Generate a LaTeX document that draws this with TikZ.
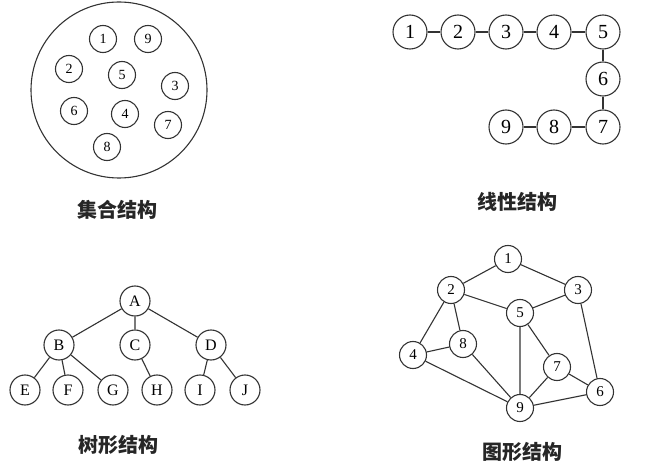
\documentclass[tikz,border=0pt]{standalone}
\usepackage{fontspec}
\setmainfont{Liberation Serif}
\newfontfamily\cjk{Noto Sans CJK SC}
\begin{document}
\begin{tikzpicture}[x=1pt,y=-1pt,
  setnode/.style={circle,draw=black!80,line width=1.1pt,minimum size=27pt,inner sep=0pt,font=\fontsize{14}{16}\selectfont},
  linnode/.style={circle,draw=black!80,line width=1.1pt,minimum size=34pt,inner sep=0pt,font=\fontsize{20}{22}\selectfont},
  treenode/.style={circle,draw=black!80,line width=1.1pt,minimum size=30pt,inner sep=0pt,font=\fontsize{16}{18}\selectfont},
  graphnode/.style={circle,draw=black!80,line width=1.1pt,minimum size=27pt,inner sep=0pt,font=\fontsize{15}{17}\selectfont},
  caption/.style={font=\cjk\bfseries\fontsize{20}{22}\selectfont,text=black!85},
  edge/.style={draw=black!80,line width=1.1pt}]
\useasboundingbox (0,0) rectangle (659,468);
% set structure
\node[circle,draw=black!80,line width=1.1pt,minimum size=176pt,inner sep=0pt] (big) at (119,90) {};
\node[setnode] (s1) at (103,39) {1};
\node[setnode] (s9) at (148,39) {9};
\node[setnode] (s2) at (69,69) {2};
\node[setnode] (s5) at (122,75) {5};
\node[setnode] (s3) at (175,86) {3};
\node[setnode] (s6) at (74,111) {6};
\node[setnode] (s4) at (125,114) {4};
\node[setnode] (s7) at (168,125) {7};
\node[setnode] (s8) at (107,147) {8};
\node[caption] (c1) at (117,210) {集合结构};
% linear structure
\node[linnode] (l1) at (410,32) {1};
\node[linnode] (l2) at (458,32) {2};
\node[linnode] (l3) at (506,32) {3};
\node[linnode] (l4) at (554,32) {4};
\node[linnode] (l5) at (603,32) {5};
\node[linnode] (l6) at (603,79) {6};
\node[linnode] (l7) at (603,127) {7};
\node[linnode] (l8) at (554,127) {8};
\node[linnode] (l9) at (506,127) {9};
\draw[edge] (l1)--(l2) (l2)--(l3) (l3)--(l4) (l4)--(l5) (l5)--(l6) (l6)--(l7) (l7)--(l8) (l8)--(l9);
\node[caption] (c2) at (517,202) {线性结构};
% tree structure
\node[treenode] (tA) at (135,301) {A};
\node[treenode] (tB) at (59,345) {B};
\node[treenode] (tC) at (135,345) {C};
\node[treenode] (tD) at (211,345) {D};
\node[treenode] (tE) at (25,390) {E};
\node[treenode] (tF) at (68,390) {F};
\node[treenode] (tG) at (113,390) {G};
\node[treenode] (tH) at (157,390) {H};
\node[treenode] (tI) at (200,390) {I};
\node[treenode] (tJ) at (245,390) {J};
\draw[edge] (tA)--(tB) (tA)--(tC) (tA)--(tD) (tB)--(tE) (tB)--(tF) (tB)--(tG) (tC)--(tH) (tD)--(tI) (tD)--(tJ);
\node[caption] (c3) at (118,445) {树形结构};
% graph structure
\node[graphnode] (g1) at (508,259) {1};
\node[graphnode] (g2) at (451,290) {2};
\node[graphnode] (g3) at (578,290) {3};
\node[graphnode] (g5) at (520,313) {5};
\node[graphnode] (g8) at (463,344) {8};
\node[graphnode] (g4) at (413,355) {4};
\node[graphnode] (g7) at (557,367) {7};
\node[graphnode] (g6) at (600,392) {6};
\node[graphnode] (g9) at (520,408) {9};
\draw[edge] (g1)--(g2) (g1)--(g3) (g2)--(g5) (g3)--(g5) (g2)--(g4) (g2)--(g8) (g4)--(g8) (g4)--(g9) (g8)--(g9) (g5)--(g9) (g5)--(g7) (g7)--(g9) (g7)--(g6) (g3)--(g6) (g9)--(g6);
\node[caption] (c4) at (522,452) {图形结构};
\end{tikzpicture}
\end{document}
